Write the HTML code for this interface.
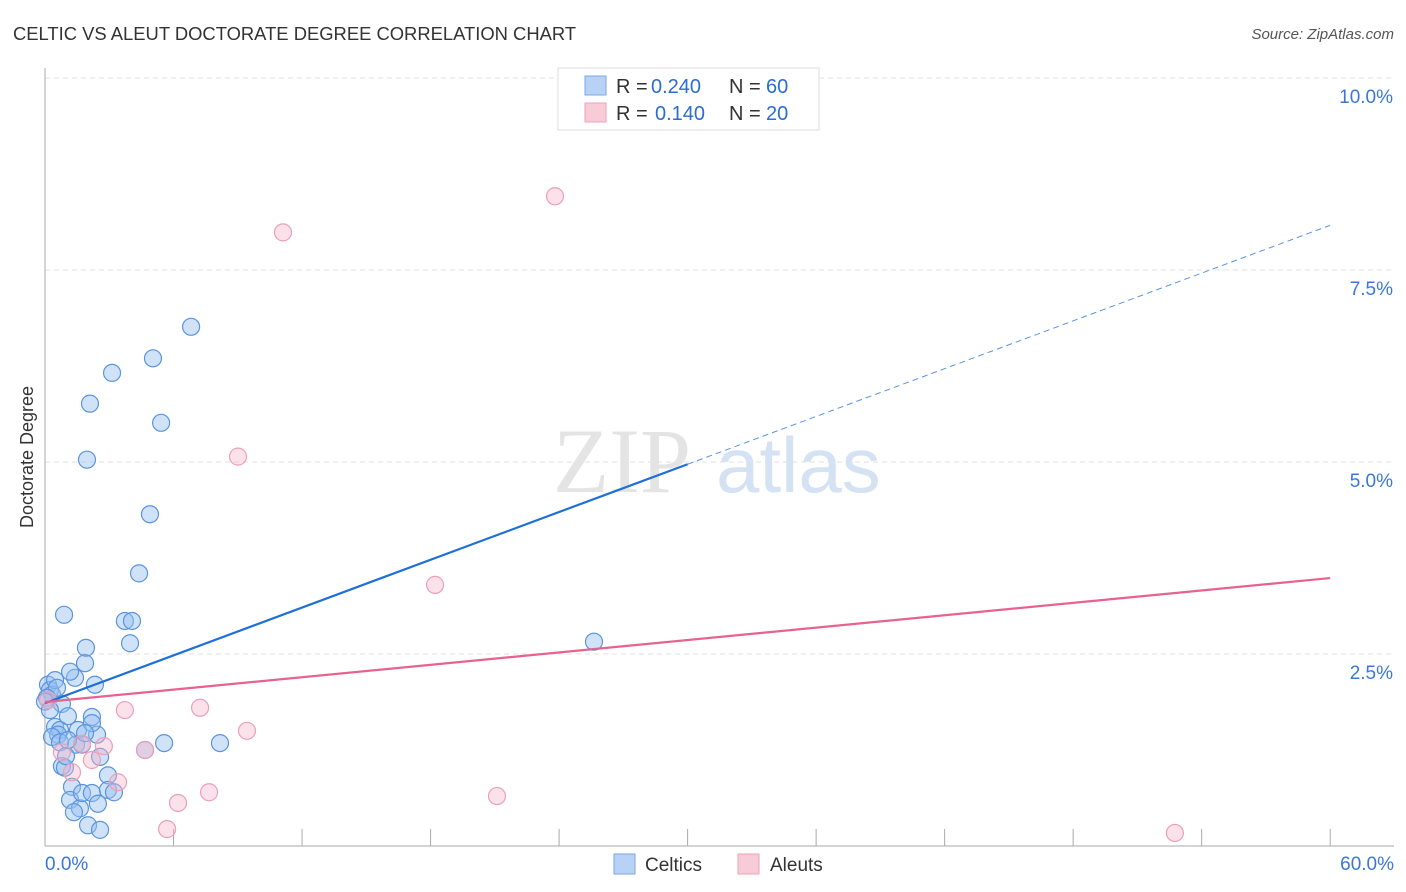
<!DOCTYPE html>
<html><head><meta charset="utf-8"><style>
body{margin:0;background:#fff;font-family:"Liberation Sans",sans-serif;}
svg{display:block}
</style></head><body>
<svg id="chart" width="1406" height="892">
<text x="13" y="40" font-size="18.4" fill="#333">CELTIC VS ALEUT DOCTORATE DEGREE CORRELATION CHART</text>
<text x="1394" y="39" font-size="15" fill="#555" font-style="italic" text-anchor="end">Source: ZipAtlas.com</text>
<text x="33" y="457" font-size="18" fill="#333" text-anchor="middle" transform="rotate(-90 33 457)">Doctorate Degree</text>
<g id="grid"></g>
<text x="553" y="492" font-size="92" fill="#e4e4e4" font-family="Liberation Serif,serif">ZIP</text>
<text x="716" y="492" font-size="78" fill="#d4e2f4">atlas</text>
<g id="marks"></g>
<g font-size="20">
<rect x="558" y="68" width="261" height="62" fill="#fff" stroke="#ddd"/>
<rect x="585" y="76" width="21" height="19" fill="#b7d2f5" stroke="#7aa8e8"/>
<text x="616" y="93" fill="#333">R =</text>
<text x="651" y="93" fill="#2a6dd4">0.240</text>
<text x="729" y="93" fill="#333">N =</text>
<text x="766" y="93" fill="#2a6dd4">60</text>
<rect x="585" y="103" width="21" height="19" fill="#f9cad7" stroke="#eea0b6"/>
<text x="616" y="120" fill="#333">R =</text>
<text x="655" y="120" fill="#2a6dd4">0.140</text>
<text x="729" y="120" fill="#333">N =</text>
<text x="766" y="120" fill="#2a6dd4">20</text>
</g>
<g>
<rect x="614" y="854" width="21" height="20" fill="#b7d2f5" stroke="#7aa8e8"/>
<text x="645" y="871" font-size="19" fill="#333">Celtics</text>
<rect x="738" y="854" width="21" height="20" fill="#f9cad7" stroke="#eea0b6"/>
<text x="770" y="871" font-size="19" fill="#333">Aleuts</text>
</g>
</svg>
<script>
const celticX=[0.14,0.23,0.33,0.47,0.56,0.09,0.79,0.89,1.40,1.17,1.91,1.87,2.33,2.19,0.47,0.70,0.61,1.07,1.54,1.45,1.73,2.43,2.19,2.57,0.79,0.93,1.26,1.17,1.63,1.73,2.19,2.47,2.94,2.94,3.22,2.01,2.57,4.67,5.56,8.17,25.63,3.97,3.73,4.06,4.39,4.90,1.96,5.42,2.10,3.13,5.04,6.82,0.33,1.87,0.70,0.98,0.0,0.23,1.35,1.07];
const celticY=[2.10,2.03,1.97,2.16,2.06,1.93,1.85,3.01,2.19,2.27,2.58,2.38,2.10,1.68,1.55,1.51,1.45,1.69,1.51,1.32,1.32,1.45,1.60,1.16,1.04,1.02,0.77,0.60,0.49,0.69,0.69,0.55,0.92,0.73,0.70,0.27,0.21,1.25,1.34,1.34,2.66,2.64,2.93,2.93,3.55,4.32,5.03,5.51,5.76,6.16,6.35,6.76,1.42,1.47,1.35,1.17,1.88,1.77,0.44,1.38];
const aleutX=[23.81,11.11,9.01,18.21,3.73,7.24,9.43,2.75,4.67,0.79,1.26,2.19,3.41,6.21,7.66,5.70,21.10,52.75,0.14,1.73];
const aleutY=[8.46,7.99,5.07,3.40,1.77,1.80,1.50,1.30,1.25,1.22,0.96,1.12,0.83,0.56,0.70,0.22,0.65,0.17,1.90,1.33];
const yTicks=[2.5,5.0,7.5,10.0];
const yTickLabels=["2.5%","5.0%","7.5%","10.0%"];
const xTickLabels=["0.0%","60.0%"];
const celticTrend=[1.86,0.1037];
const aleutTrend=[1.875,0.0269];

const NS="http://www.w3.org/2000/svg";
const sx=v=>45+v*21.42, sy=v=>846-v*76.8;
function mk(tag,attrs,parent){const e=document.createElementNS(NS,tag);for(const k in attrs)e.setAttribute(k,attrs[k]);parent.appendChild(e);return e;}
const grid=document.getElementById('grid'), marks=document.getElementById('marks');
yTicks.forEach((t,i)=>{
  const l=mk('line',{x1:45,x2:1394,y1:sy(t),y2:sy(t),stroke:'#e2e2e2','stroke-dasharray':'5,4'},grid);
  
  
  const tx=mk('text',{x:1393,y:sy(t)+25,'font-size':19,fill:'#3a78d8','text-anchor':'end'},grid);
  tx.textContent=yTickLabels[i];
  
  
});
const ax=mk('line',{x1:45,x2:45,y1:68,y2:846,stroke:'#aaa'},grid);


const bx=mk('line',{x1:45,x2:1394,y1:846,y2:846,stroke:'#aaa'},grid);


for(let i=1;i<=10;i++){
  const t=mk('line',{x1:sx(i*6),x2:sx(i*6),y1:829,y2:846,stroke:'#aaa'},grid);
  
  
}
[[0,'start',45],[60,'end',1394]].forEach((d,i)=>{
  const t=mk('text',{x:d[2],y:870,'font-size':19,fill:'#3a78d8','text-anchor':d[1]},grid);
  t.textContent=xTickLabels[i];
  
  
});
celticX.forEach((x,i)=>{
  const c=mk('circle',{cx:sx(x),cy:sy(celticY[i]),r:8.5,fill:'rgba(150,190,240,0.45)',stroke:'#5a95e0','stroke-width':1.2},marks);
  
  
});
aleutX.forEach((x,i)=>{
  const c=mk('circle',{cx:sx(x),cy:sy(aleutY[i]),r:8.5,fill:'rgba(245,180,200,0.4)',stroke:'#eba0b8','stroke-width':1.2},marks);
  
  
});
const f=(tr,x)=>tr[0]+tr[1]*x;
const l1=mk('line',{x1:sx(0),y1:sy(f(celticTrend,0)),x2:sx(30),y2:sy(f(celticTrend,30)),stroke:'#1f6fd8','stroke-width':2.2},marks);


const l2=mk('line',{x1:sx(30),y1:sy(f(celticTrend,30)),x2:sx(60),y2:sy(f(celticTrend,60)),stroke:'#5a95e0','stroke-width':1,'stroke-dasharray':'6,4'},marks);


const l3=mk('line',{x1:sx(0),y1:sy(f(aleutTrend,0)),x2:sx(60),y2:sy(f(aleutTrend,60)),stroke:'#e8628e','stroke-width':2.2},marks);


</script>
</body></html>
